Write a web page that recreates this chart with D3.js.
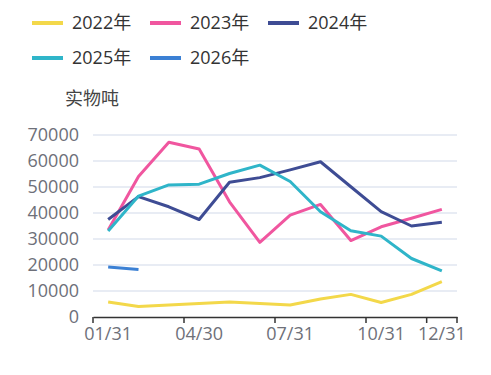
<!DOCTYPE html>
<html>
<head>
<meta charset="utf-8">
<script src="https://cdn.jsdelivr.net/npm/d3@7"></script>
<style>
  body { margin: 0; background: #fff; }
  svg text { font-family: "Open Sans", "Noto Sans CJK SC", sans-serif; }
  .grid line { stroke: #e0e6f1; stroke-width: 1.5; }
  .axis text { fill: #6e7079; font-size: 18px; }
  .series { fill: none; stroke-width: 3; stroke-linejoin: round; }
</style>
</head>
<body>
<div id="chart"></div>
<script>
var months = ['01/31', '02/28', '03/31', '04/30', '05/31', '06/30', '07/31', '08/31', '09/30', '10/31', '11/30', '12/31']
var shownLabels = ['01/31', '04/30', '07/31', '10/31', '12/31']
var yTicks = [0, 10000, 20000, 30000, 40000, 50000, 60000, 70000]

var names = ['2022年', '2023年', '2024年', '2025年', '2026年']
var colors = ['#f3d84a', '#f0569f', '#3e4c94', '#2fb5c9', '#3b80d4']

var v2022 = [5800, 4000, 4600, 5200, 5800, 5200, 4600, 6900, 8700, 5600, 8700, 13600]
var v2023 = [33500, 54000, 67200, 64600, 44300, 28700, 39200, 43300, 29400, 34700, 38000, 41400]
var v2024 = [37500, 46300, 42400, 37500, 51800, 53600, 56600, 59700, 50100, 40500, 35000, 36400]
var v2025 = [33100, 46500, 50800, 51100, 55200, 58400, 52100, 40500, 33200, 31100, 22500, 17700]
var v2026 = [19200, 18300]

var seriesVals = [v2022, v2023, v2024, v2025, v2026]

var svg = d3.select('#chart').append('svg').attr('width', 491).attr('height', 375)

var x = d3.scaleBand().domain(months).range([93, 457])
var y = d3.scaleLinear().domain([0, 70000]).range([317, 135])

// grid
svg.append('g').attr('class', 'grid')
  .selectAll('line').data(yTicks.filter(function(d){ return d > 0 }))
  .enter().append('line')
  .attr('x1', 93).attr('x2', 457)
  .attr('y1', function(d){ return y(d) }).attr('y2', function(d){ return y(d) })

// y axis labels
var yAxis = svg.append('g').attr('class', 'axis').attr('transform', 'translate(93,0)')
  .call(d3.axisLeft(y).tickValues(yTicks).tickSize(0).tickPadding(14).tickFormat(d3.format('d')))
yAxis.select('.domain').remove()

// x axis
var xAxis = svg.append('g').attr('class', 'axis').attr('transform', 'translate(0,317)')
  .call(d3.axisBottom(x).tickValues(shownLabels).tickSize(0).tickPadding(10))
xAxis.select('.domain').attr('stroke', '#333').attr('stroke-width', 1.5)

var tickPos = shownLabels.map(function(d){ return x(d) }).concat([x.range()[1]])
xAxis.selectAll('.btick').data(tickPos).enter().append('line')
  .attr('class', 'btick')
  .attr('x1', function(d){ return d }).attr('x2', function(d){ return d })
  .attr('y1', 0).attr('y2', 6)
  .attr('stroke', '#333').attr('stroke-width', 1.5)

// lines
var line = d3.line()
  .x(function(d, i){ return x(months[i]) + x.bandwidth() / 2 })
  .y(function(d){ return y(d) })

svg.selectAll('path.series').data(seriesVals).enter().append('path')
  .attr('class', 'series')
  .attr('stroke', function(d, i){ return colors[i] })
  .attr('d', line)

// unit label
svg.append('text').attr('x', 65).attr('y', 99).attr('dy', '0.35em')
  .attr('fill', '#444').style('font-size', '18px').text('实物吨')

// legend
var legendPos = [[32, 23], [150, 23], [268, 23], [32, 58], [150, 58]]
var leg = svg.selectAll('g.leg').data(names).enter().append('g')
  .attr('class', 'leg')
  .attr('transform', function(d, i){ return 'translate(' + legendPos[i][0] + ',' + legendPos[i][1] + ')' })
leg.append('line').attr('x1', 0).attr('x2', 31)
  .attr('stroke', function(d, i){ return colors[i] }).attr('stroke-width', 4)
leg.append('text').attr('x', 40).attr('dy', '0.35em')
  .attr('fill', '#333').style('font-size', '18px').text(function(d){ return d })
</script>
</body>
</html>
